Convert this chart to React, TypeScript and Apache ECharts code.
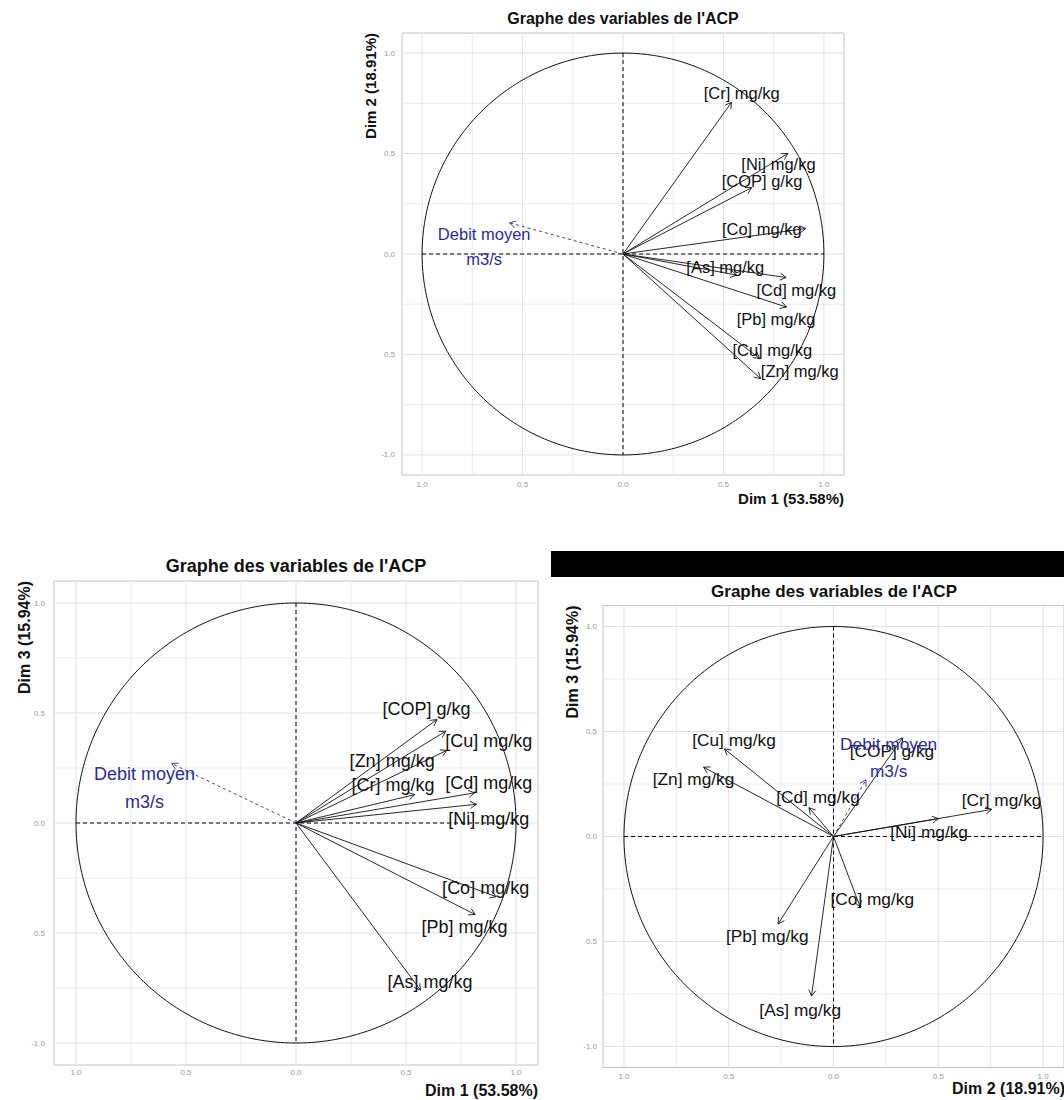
import React, { useEffect, useRef } from 'react';
import * as echarts from 'echarts';

// ---- data ----
const variables = [
  '[Cr] mg/kg',
  '[Ni] mg/kg',
  '[COP] g/kg',
  '[Co] mg/kg',
  '[As] mg/kg',
  '[Cd] mg/kg',
  '[Pb] mg/kg',
  '[Cu] mg/kg',
  '[Zn] mg/kg',
  'Debit moyen\nm3/s',
];
const supplementary = [false, false, false, false, false, false, false, false, false, true];
const dim1 = [0.54, 0.82, 0.64, 0.91, 0.566, 0.812, 0.814, 0.68, 0.685, -0.565];
const dim2 = [0.755, 0.5, 0.33, 0.127, -0.105, -0.117, -0.264, -0.52, -0.62, 0.155];
const dim3 = [0.129, 0.085, 0.47, -0.335, -0.76, 0.137, -0.416, 0.417, 0.33, 0.27];
const dimTitles = ['Dim 1 (53.58%)', 'Dim 2 (18.91%)', 'Dim 3 (15.94%)'];
const chartTitle = "Graphe des variables de l'ACP";
const tickValues = [-1, -0.5, 0, 0.5, 1];
const xTickLabels = ['1.0', '0.5', '0.0', '0.5', '1.0'];
const yTickLabels = ['-1.0', '0.5', '0.0', '0.5', '1.0'];
const gridValues = [-1, -0.75, -0.5, -0.25, 0, 0.25, 0.5, 0.75, 1];

// ---- label nudges (layout, in axis units) ----
const nudge12 = [
  [0.051, 0.044], [-0.046, -0.053], [0.052, 0.034], [-0.219, -0.003], [-0.057, 0.039],
  [0.051, -0.062], [-0.052, -0.061], [0.063, 0.04], [0.195, 0.04], [-0.126, -0.117],
];
const nudge13 = [
  [-0.099, 0.045], [0.056, -0.065], [-0.047, 0.05], [-0.048, 0.038], [0.043, 0.037],
  [0.064, 0.045], [-0.048, -0.055], [0.196, -0.043], [-0.248, -0.046], [-0.124, -0.112],
];
const nudge23 = [
  [0.047, 0.045], [-0.044, -0.064], [-0.051, -0.061], [0.058, 0.038], [-0.054, -0.064],
  [0.043, 0.051], [-0.052, -0.06], [0.045, 0.043], [-0.048, -0.054], [0.108, 0.107],
];

const FONT = '"Liberation Sans", Arial, Helvetica, sans-serif';
const SUP_COLOR = '#2b2ba0';

const panels = [
  { xs: dim1, ys: dim2, xt: 0, yt: 1, nudge: nudge12, left: 402, top: 33, size: 442, font: 16.5, titleSize: 16, axisSize: 15, titleY: 18, xTitleY: 498, yTitleX: 370, xLabMargin: 5, yLabMargin: 7 },
  { xs: dim1, ys: dim3, xt: 0, yt: 2, nudge: nudge13, left: 54, top: 581, size: 484, font: 18, titleSize: 18, axisSize: 16, titleY: 566, xTitleY: 1090, yTitleX: 24, xLabMargin: 3, yLabMargin: 9 },
  { xs: dim2, ys: dim3, xt: 1, yt: 2, nudge: nudge23, left: 603, top: 605.5, size: 462, font: 17.3, titleSize: 17, axisSize: 16, titleY: 591, xTitleY: 1088, yTitleX: 572, xLabMargin: 5, yLabMargin: 6 },
];

function tickFmt(labels: string[]) {
  return (v: number) => {
    const idx = tickValues.findIndex((t) => Math.abs(t - v) < 1e-6);
    return idx >= 0 ? labels[idx] : '';
  };
}

function buildOption() {
  const grid: any[] = [];
  const xAxis: any[] = [];
  const yAxis: any[] = [];
  const series: any[] = [];
  const graphic: any[] = [];

  panels.forEach((p, k) => {
    grid.push({
      left: p.left, top: p.top, width: p.size, height: p.size,
      show: true, borderColor: '#c4c4c4', borderWidth: 1, backgroundColor: 'transparent',
    });
    const axisCommon = {
      gridIndex: k, type: 'value', min: -1.1, max: 1.1,
      axisLine: { show: false }, axisTick: { show: false }, splitLine: { show: false },
    };
    xAxis.push({
      ...axisCommon,
      axisLabel: { customValues: tickValues, formatter: tickFmt(xTickLabels), color: '#9a9a9a', fontSize: 8, margin: p.xLabMargin, fontFamily: FONT },
    });
    yAxis.push({
      ...axisCommon,
      axisLabel: { customValues: tickValues, formatter: tickFmt(yTickLabels), color: '#9a9a9a', fontSize: 8, margin: p.yLabMargin, fontFamily: FONT },
    });

    // grid lines
    series.push({
      type: 'custom', xAxisIndex: k, yAxisIndex: k, silent: true, z: 1,
      data: gridValues.map((v) => [v, v]),
      renderItem: (params: any, api: any) => {
        const v = api.value(0);
        const major = Math.abs(v * 2 - Math.round(v * 2)) < 1e-6;
        const a = api.coord([v, -1.1]);
        const b = api.coord([v, 1.1]);
        const c = api.coord([-1.1, v]);
        const d = api.coord([1.1, v]);
        const st = { stroke: '#e2e2e2', lineWidth: major ? 1 : 0.7 };
        return {
          type: 'group',
          children: [
            { type: 'line', shape: { x1: a[0], y1: a[1], x2: b[0], y2: b[1] }, style: st },
            { type: 'line', shape: { x1: c[0], y1: c[1], x2: d[0], y2: d[1] }, style: st },
          ],
        };
      },
    });

    // circle + dashed axes
    series.push({
      type: 'custom', xAxisIndex: k, yAxisIndex: k, silent: true, z: 2,
      data: [[0, 0]],
      renderItem: (params: any, api: any) => {
        const pts: number[][] = [];
        for (let deg = 0; deg <= 360; deg += 1) {
          const r = (deg * Math.PI) / 180;
          pts.push(api.coord([Math.cos(r), Math.sin(r)]));
        }
        const l = api.coord([-1, 0]);
        const r = api.coord([1, 0]);
        const t = api.coord([0, 1]);
        const b = api.coord([0, -1]);
        const dash = { stroke: '#000', lineWidth: 1, lineDash: [4, 3], fill: null };
        return {
          type: 'group',
          children: [
            { type: 'polyline', shape: { points: pts }, style: { stroke: '#111', lineWidth: 1, fill: null } },
            { type: 'line', shape: { x1: l[0], y1: l[1], x2: r[0], y2: r[1] }, style: dash },
            { type: 'line', shape: { x1: t[0], y1: t[1], x2: b[0], y2: b[1] }, style: dash },
          ],
        };
      },
    });

    // arrows
    series.push({
      type: 'custom', xAxisIndex: k, yAxisIndex: k, silent: true, z: 3,
      data: variables.map((_, i) => [p.xs[i], p.ys[i], i]),
      renderItem: (params: any, api: any) => {
        const i = api.value(2);
        const o = api.coord([0, 0]);
        const tip = api.coord([api.value(0), api.value(1)]);
        const ang = Math.atan2(tip[1] - o[1], tip[0] - o[0]);
        const L = 7;
        const A = Math.PI / 6;
        const p1 = [tip[0] - L * Math.cos(ang - A), tip[1] - L * Math.sin(ang - A)];
        const p2 = [tip[0] - L * Math.cos(ang + A), tip[1] - L * Math.sin(ang + A)];
        const sup = supplementary[i];
        const st: any = { stroke: sup ? SUP_COLOR : '#111', lineWidth: 0.9, fill: null };
        if (sup) st.lineDash = [3, 3];
        return {
          type: 'group',
          children: [
            { type: 'line', shape: { x1: o[0], y1: o[1], x2: tip[0], y2: tip[1] }, style: st },
            { type: 'polyline', shape: { points: [p1, tip, p2] }, style: { ...st, lineDash: null } },
          ],
        };
      },
    });

    // labels
    series.push({
      type: 'custom', xAxisIndex: k, yAxisIndex: k, silent: true, z: 4,
      data: variables.map((_, i) => [p.xs[i] + p.nudge[i][0], p.ys[i] + p.nudge[i][1], i]),
      renderItem: (params: any, api: any) => {
        const i = api.value(2);
        const c = api.coord([api.value(0), api.value(1)]);
        const sup = supplementary[i];
        return {
          type: 'text',
          x: c[0], y: c[1],
          style: {
            text: variables[i],
            fill: sup ? SUP_COLOR : '#111',
            fontSize: p.font,
            fontFamily: FONT,
            align: 'center',
            verticalAlign: 'middle',
            lineHeight: p.font * 1.55,
          },
        };
      },
    });

    // titles
    const cx = p.left + p.size / 2;
    graphic.push({
      type: 'text', x: cx, y: p.titleY, z: 10,
      style: { text: chartTitle, fill: '#111', fontSize: p.titleSize, fontWeight: 'bold', fontFamily: FONT, align: 'center', verticalAlign: 'middle' },
    });
    graphic.push({
      type: 'text', x: p.left + p.size, y: p.xTitleY, z: 10,
      style: { text: dimTitles[p.xt], fill: '#111', fontSize: p.axisSize, fontWeight: 'bold', fontFamily: FONT, align: 'right', verticalAlign: 'middle' },
    });
    graphic.push({
      type: 'text', x: p.yTitleX, y: p.top, rotation: Math.PI / 2, z: 10,
      style: { text: dimTitles[p.yt], fill: '#111', fontSize: p.axisSize, fontWeight: 'bold', fontFamily: FONT, align: 'right', verticalAlign: 'middle' },
    });
  });

  graphic.push({
    type: 'rect', shape: { x: 551, y: 551, width: 513, height: 26 }, style: { fill: '#000' }, z: 10,
  });

  return {
    animation: false,
    backgroundColor: '#fff',
    grid, xAxis, yAxis, series, graphic,
  };
}

export default function App() {
  const ref = useRef<HTMLDivElement>(null);
  useEffect(() => {
    document.body.style.margin = '0';
    const chart = echarts.init(ref.current as HTMLDivElement, undefined, { renderer: 'svg', width: 1064, height: 1100 });
    chart.setOption(buildOption() as any);
    return () => chart.dispose();
  }, []);
  return <div ref={ref} style={{ width: 1064, height: 1100, position: 'absolute', left: 0, top: 0 }} />;
}
